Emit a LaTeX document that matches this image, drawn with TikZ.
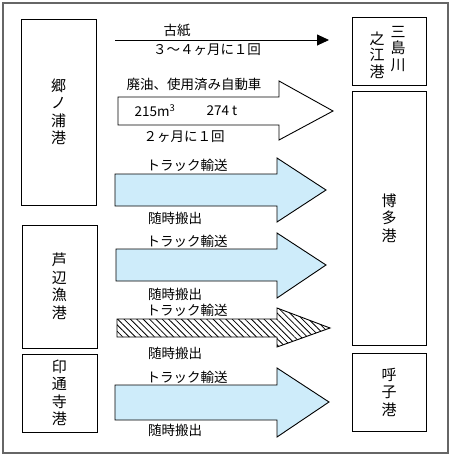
\documentclass[tikz,border=0pt]{standalone}
\usepackage{fontspec}
\newfontfamily\jp{Noto Sans CJK JP}
\usepackage{xcolor}
\usepackage{tikz}
\usetikzlibrary{arrows.meta, patterns.meta, positioning}

\definecolor{paleblue}{RGB}{206,236,250}

\tikzset{
  port/.style={draw, line width=0.9pt, inner sep=0pt, align=center,
               font=\jp\fontsize{15}{17.5}\selectfont},
  portname/.style={inner sep=0pt, align=center,
               font=\jp\fontsize{15}{16.5}\selectfont},
  blockarrow/.style={draw, line width=0.9pt},
  cargo/.style={font=\jp\fontsize{13.5}{16}\selectfont, inner sep=1pt},
}

\begin{document}
\begin{tikzpicture}[x=1pt,y=-1pt]
\useasboundingbox (0,0) rectangle (450,456);

%---------------- Frame ----------------%
\draw[black!60, line width=1.2pt] (3,3) rectangle (448,453);

%---------------- Ports (left) ----------------%
\node[port, minimum width=75pt, minimum height=186pt] (gonoura) at (58.5,112) {郷\\ノ\\浦\\港};
\node[port, minimum width=75pt, minimum height=123pt] (ashibe) at (59.5,286.5) {芦\\辺\\漁\\港};
\node[port, minimum width=75pt, minimum height=78pt] (indouji) at (59.5,393) {印\\通\\寺\\港};

%---------------- Ports (right) ----------------%
\node[port, minimum width=74pt, minimum height=68pt] (mishima) at (389,51) {};
\node[portname] (mishima-r) at (398,49) {三\\島\\川};
\node[portname] (mishima-l) at (377,55) {之\\江\\港};
\node[port, minimum width=74pt, minimum height=254pt] (hakata) at (389,218) {博\\多\\港};
\node[port, minimum width=74pt, minimum height=78pt] (yobuko) at (389,392) {呼\\子\\港};

%---------------- Waste paper ----------------%
\coordinate (koshi-s) at (115,40);
\coordinate (koshi-e) at (329,40);
\draw[line width=0.9pt, -{Triangle[length=12pt,width=11pt]}] (koshi-s) -- (koshi-e);
\node[cargo] (koshi) at (177,31) {古紙};
\node[cargo] (koshi-f) at (207,50) {３～４ヶ月に１回};

%---------------- Waste oil, used cars ----------------%
\filldraw[blockarrow, fill=white] (118,97) -- (279,97) -- (279,81) -- (333,111)
  -- (279,140) -- (279,125) -- (118,125) -- cycle;
\node[cargo] (oil) at (194,84) {廃油、使用済み自動車};
\node[cargo] (oil-v) at (155,111) {215m\textsuperscript{3}};
\node[cargo] (oil-w) at (222,111) {274 t};
\node[cargo] (oil-f) at (184,137) {２ヶ月に１回};

%---------------- Truck: Gonoura ----------------%
\filldraw[blockarrow, fill=paleblue] (115,174) -- (277,174) -- (277,158) -- (326,190)
  -- (277,222) -- (277,206) -- (115,206) -- cycle;
\node[cargo] (truck-a) at (187,165) {トラック輸送};
\node[cargo] (ship-a) at (175,218) {随時搬出};

%---------------- Truck: Ashibe ----------------%
\filldraw[blockarrow, fill=paleblue] (116,249) -- (277,249) -- (277,233) -- (326,265)
  -- (277,298) -- (277,281) -- (116,281) -- cycle;
\node[cargo] (truck-b) at (187,241) {トラック輸送};
\node[cargo] (ship-b) at (175,294) {随時搬出};

%---------------- Truck: Ashibe (hatched) ----------------%
\draw[blockarrow, pattern={Lines[angle=-45,distance=4.5pt,line width=0.8pt]}]
  (117,319) -- (277,319) -- (277,308) -- (330,328)
  -- (277,347) -- (277,337) -- (117,337) -- cycle;
\node[cargo] (truck-c) at (187,310) {トラック輸送};
\node[cargo] (ship-c) at (175,353) {随時搬出};

%---------------- Truck: Indouji ----------------%
\filldraw[blockarrow, fill=paleblue] (115,385) -- (277,385) -- (277,368) -- (329,402)
  -- (277,437) -- (277,420) -- (115,420) -- cycle;
\node[cargo] (truck-d) at (187,377) {トラック輸送};
\node[cargo] (ship-d) at (175,430) {随時搬出};

\end{tikzpicture}
\end{document}
